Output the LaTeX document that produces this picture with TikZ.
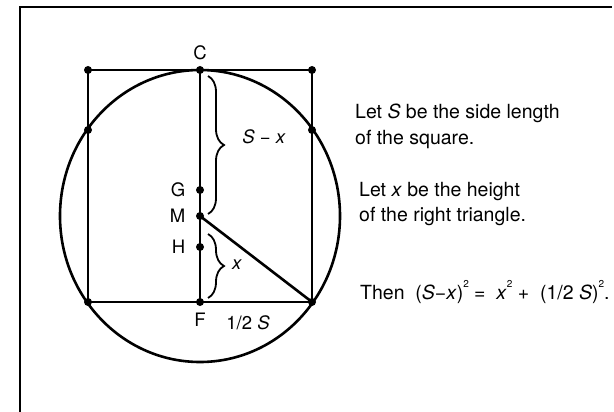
\documentclass[tikz,border=0pt]{standalone}
\usepackage{fontspec}
\setmainfont{TeX Gyre Heros}
\usepackage{tikz}
\usetikzlibrary{positioning,decorations.pathreplacing}
\newcommand{\sqr}{\raisebox{1.1ex}{\fontsize{10}{10}\selectfont 2}}

\begin{document}
\begin{tikzpicture}[x=1pt,y=-1pt,
  every node/.style={font=\fontsize{18.5}{22}\selectfont},
  dot/.style={circle, fill=black, inner sep=0pt, minimum size=8pt},
  edge/.style={line width=2.6pt},
  curlybrace/.style={decorate, decoration={brace, amplitude=16pt}, line width=1.8pt},
  note/.style={align=left, anchor=base west, inner sep=0pt, font=\fontsize{19.5}{25}\selectfont}
]
\useasboundingbox (0,0) rectangle (614,412);
\draw[line width=2pt] (20,412) -- (20,7) -- (612,7);

% points of the square and the circle
\coordinate (tl) at (88,70);
\coordinate (c)  at (200,70);
\coordinate (tr) at (312,70);
\coordinate (ls) at (88,130);
\coordinate (rs) at (312,130);
\coordinate (bl) at (88,302);
\coordinate (f)  at (200,302);
\coordinate (br) at (312,302);
\coordinate (g)  at (200,190);
\coordinate (m)  at (200,216);
\coordinate (h)  at (200,247);

\draw[edge] (tl) -- (tr) -- (br) -- (bl) -- cycle;
\draw[edge] (c) -- (f);
\draw[edge] (m) -- (br);
\draw[edge] (m) ellipse [x radius=140pt, y radius=146pt];

\foreach \p in {tl,c,tr,ls,rs,bl,f,br,g,m,h}
  \node[dot] (\p dot) at (\p) {};

\node[above=2pt of cdot] (clabel) {C};
\node[left=7pt of gdot]  (glabel) {G};
\node[left=7pt of mdot]  (mlabel) {M};
\node[left=7pt of hdot]  (hlabel) {H};
\node[below=3pt of fdot] (flabel) {F};
\node (halfs) at (248,323) {1/2 \textit{S}};

% braces
\draw[curlybrace] (208,76) -- (208,214);
\node (sxlabel) at (264,137) {\textit{S} − \textit{x}};
\draw[curlybrace] (208,234) -- (208,298);
\node (xlabel) at (237,265) {\textit{x}};

% the text on the right
\node[note] (side)   at (355,144) {Let \textit{S} be the side length\\of the square.};
\node[note] (height) at (359,222) {Let \textit{x} be the height\\of the right triangle.};
\node[note] (then)   at (360,299) {Then\ \ (\textit{S}−\textit{x})\sqr\ =\ \ \textit{x}\sqr\ + \ (1/2 \textit{S})\sqr.};
\end{tikzpicture}
\end{document}
